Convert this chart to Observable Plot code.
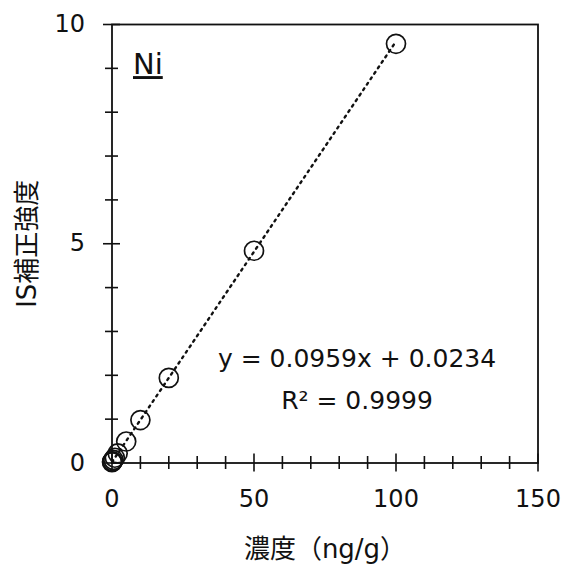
<!DOCTYPE html>
<html>
<head>
<meta charset="utf-8">
<script src="https://cdn.jsdelivr.net/npm/d3@7"></script>
<script src="https://cdn.jsdelivr.net/npm/@observablehq/plot@0.6"></script>
<style>
  html, body { margin: 0; padding: 0; background: #fff; }
  #chart svg { display: block; }
</style>
</head>
<body>
<div id="chart"></div>
<script>
// Ni calibration standards: concentration (ng/g) vs IS-corrected intensity
const concentration = [0, 0.1, 0.2, 0.5, 1, 2, 5, 10, 20, 50, 100];
const intensity     = [0.02, 0.03, 0.04, 0.07, 0.12, 0.22, 0.49, 0.98, 1.94, 4.84, 9.56];

// Least-squares fit shown on the chart
const slope = 0.0959;
const intercept = 0.0234;
const rSquared = 0.9999;

// Axis ticks
const xMajorTicks = [0, 50, 100, 150];
const xMinorTicks = [10, 20, 30, 40, 60, 70, 80, 90, 110, 120, 130, 140];
const yMajorTicks = [0, 5, 10];
const yMinorTicks = [1, 2, 3, 4, 6, 7, 8, 9];

const element = "Ni";
const xLabel = "濃度（ng/g）";
const yLabel = "IS補正強度";

const points = concentration.map((x, i) => ({x, y: intensity[i]}));
const xFit = d3.extent(concentration);
const fitLine = xFit.map(x => ({x, y: slope * x + intercept}));
const equation = `y = ${slope}x + ${intercept}\nR² = ${rSquared}`;

const font = "'DejaVu Sans', 'Noto Sans CJK JP', sans-serif";
const ink = "#111";

const chart = Plot.plot({
  width: 563,
  height: 565,
  marginLeft: 111.5,
  marginRight: 25.5,
  marginTop: 24,
  marginBottom: 102.5,
  style: {fontFamily: font, fontSize: "24px", color: ink, background: "#fff"},
  x: {domain: [0, 150]},
  y: {domain: [0, 10]},
  marks: [
    // tick labels and axis titles
    Plot.axisX({ticks: xMajorTicks, tickSize: 0, tickPadding: 27, fontSize: 24,
      label: xLabel, labelAnchor: "center", labelArrow: "none", labelOffset: 95}),
    Plot.axisY({ticks: yMajorTicks, tickSize: 0, tickPadding: 27, fontSize: 24,
      label: yLabel, labelAnchor: "center", labelArrow: "none", labelOffset: 94}),
    // tick marks crossing the axis lines
    Plot.axisX({ticks: xMinorTicks, tickSize: 13, dy: -6.5, fill: "none", strokeWidth: 1.6}),
    Plot.axisX({ticks: xMajorTicks, tickSize: 18, dy: -9, fill: "none", strokeWidth: 1.6}),
    Plot.axisY({ticks: yMinorTicks, tickSize: 13, dx: 6.5, fill: "none", strokeWidth: 1.6}),
    Plot.axisY({ticks: yMajorTicks, tickSize: 17, dx: 8.5, fill: "none", strokeWidth: 1.6}),
    Plot.frame({stroke: ink, strokeWidth: 1.8}),
    // fitted line
    Plot.line(fitLine, {x: "x", y: "y", stroke: ink, strokeWidth: 2.4,
      strokeDasharray: "2,4.6"}),
    // standards
    Plot.dot(points, {x: "x", y: "y", r: 9.5, stroke: ink, strokeWidth: 1.7, fill: "none"}),
    // element label
    Plot.text([element], {frameAnchor: "top-left", text: d => d, dx: 21, dy: 29,
      textAnchor: "start", fontSize: 29, fill: ink, className: "element-label"}),
    // fit equation
    Plot.text([equation], {frameAnchor: "top-left", text: d => d,
      dx: 245, dy: 350, lineHeight: 1.7,
      textAnchor: "middle", lineAnchor: "middle", fill: ink, fontSize: 25})
  ]
});

document.getElementById("chart").appendChild(chart);
// axis titles are set a little larger than the tick labels
d3.select(chart).selectAll("g[aria-label='x-axis label'] text, g[aria-label='y-axis label'] text")
  .style("font-size", "26px");
d3.select(chart).selectAll(".element-label text").style("text-decoration", "underline");
</script>
</body>
</html>
